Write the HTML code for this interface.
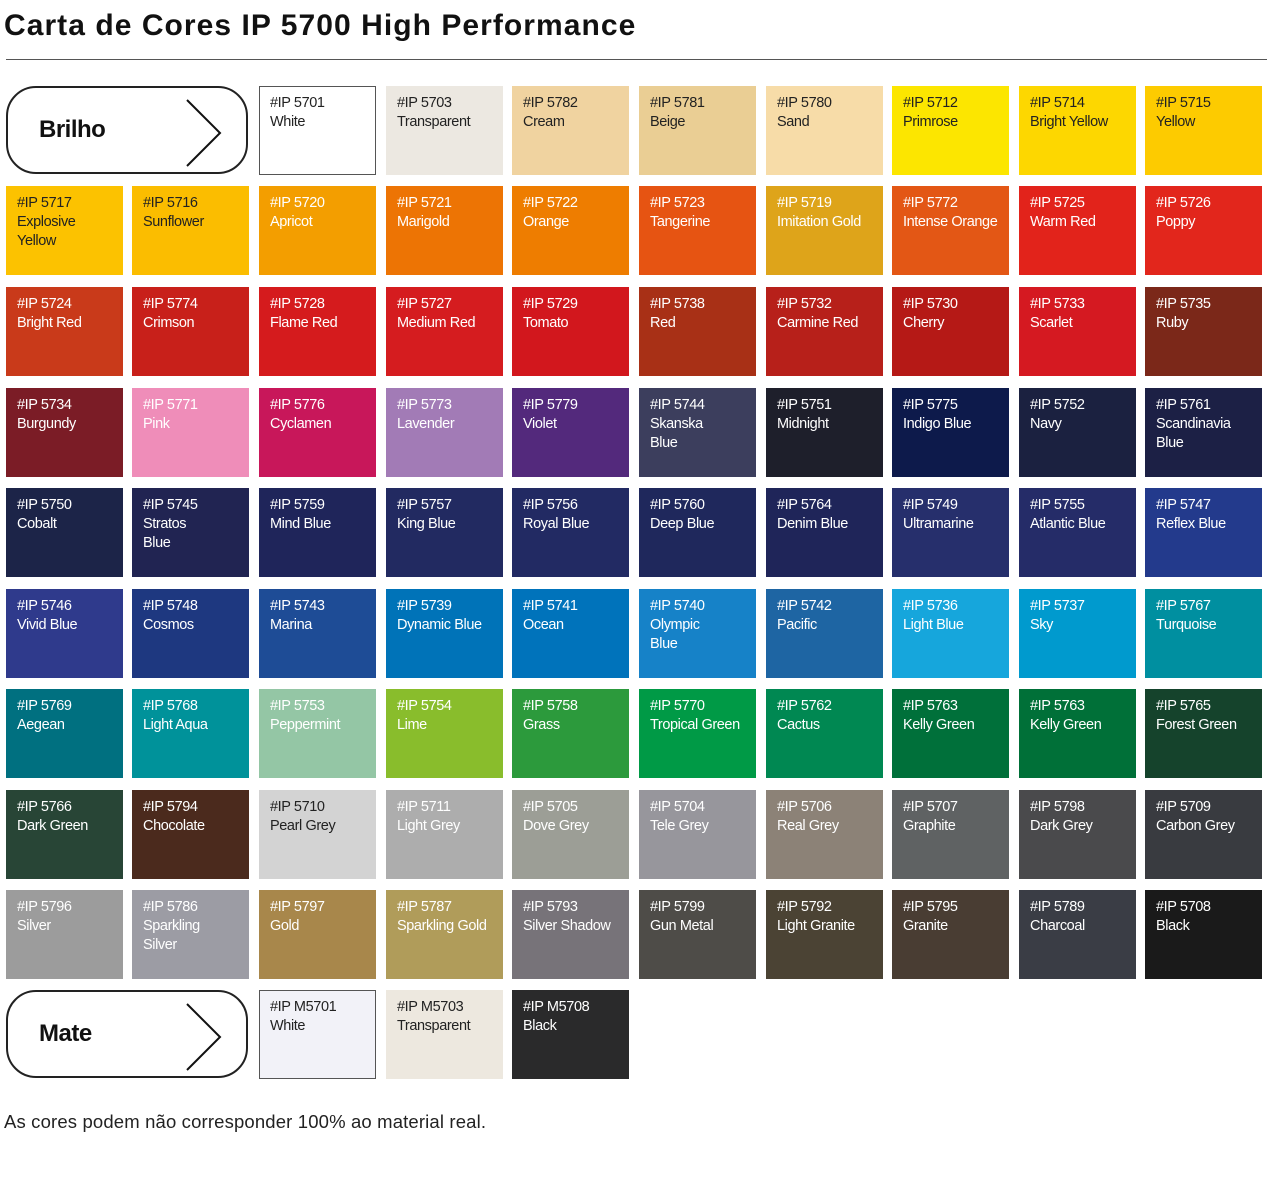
<!DOCTYPE html><html><head><meta charset="utf-8"><style>
body{margin:0;width:1270px;height:1196px;background:#fff;position:relative;font-family:"Liberation Sans",Arial,sans-serif;overflow:hidden}
.t{position:absolute;left:4px;top:9px;font-size:30px;font-weight:bold;color:#111;letter-spacing:1.05px}
.hr{position:absolute;left:6px;top:59px;width:1261px;height:1px;background:#555}
.s{position:absolute;width:117px;height:89px;box-sizing:border-box;padding:8px 0 0 11px;font-size:14.5px;line-height:19px;color:#fff;letter-spacing:-0.4px}
.d{color:#222}
.b{border:1px solid #555;padding:7px 0 0 10px}
.lab{position:absolute;left:6px;width:242px;height:88px;box-sizing:border-box;border:2px solid #222;border-radius:30px}
.lab span{position:absolute;left:31px;top:28px;font-size:24px;font-weight:bold;color:#111;letter-spacing:-0.5px}
.lab svg{position:absolute;left:176px;top:10px}
.f{position:absolute;left:4px;top:1111px;font-size:18.5px;color:#222;letter-spacing:0.15px}
</style></head><body>
<div class="t">Carta de Cores IP 5700 High Performance</div>
<div class="hr"></div>
<div class="lab" style="top:86px"><span>Brilho</span><svg width="40" height="70"><polyline points="3,2 36,35 3,68" fill="none" stroke="#111" stroke-width="2"/></svg></div>
<div class="lab" style="top:990px"><span>Mate</span><svg width="40" height="70"><polyline points="3,2 36,35 3,68" fill="none" stroke="#111" stroke-width="2"/></svg></div>
<div id="g"></div>
<div class="f">As cores podem não corresponder 100% ao material real.</div>
<script>
var X=[6,132,259,386,512,639,766,892,1019,1145],Y=[86,186,287,388,488,589,689,790,890,990];
var R=[
[null,null,["5701","White","#ffffff","db"],["5703","Transparent","#ece8e1","d"],["5782","Cream","#f0d3a0","d"],["5781","Beige","#eace94","d"],["5780","Sand","#f7dca8","d"],["5712","Primrose","#fce600","d"],["5714","Bright Yellow","#fdd700","d"],["5715","Yellow","#fdcb00","d"]],
[["5717","Explosive<br>Yellow","#fcc200","d"],["5716","Sunflower","#fbbd00","d"],["5720","Apricot","#f39e00"],["5721","Marigold","#ed7404"],["5722","Orange","#ee7d00"],["5723","Tangerine","#e65412"],["5719","Imitation Gold","#dea41a"],["5772","Intense Orange","#e35715"],["5725","Warm Red","#e2231b"],["5726","Poppy","#e2261c"]],
[["5724","Bright Red","#c93a1a"],["5774","Crimson","#c8201a"],["5728","Flame Red","#d51b1d"],["5727","Medium Red","#d51c1f"],["5729","Tomato","#d2171d"],["5738","Red","#a83016"],["5732","Carmine Red","#b7201a"],["5730","Cherry","#b51916"],["5733","Scarlet","#d51921"],["5735","Ruby","#7b2819"]],
[["5734","Burgundy","#7b1c26"],["5771","Pink","#ef8db9"],["5776","Cyclamen","#c8175a"],["5773","Lavender","#a27bb6"],["5779","Violet","#53297c"],["5744","Skanska<br>Blue","#3c3e5d"],["5751","Midnight","#1e1f2b"],["5775","Indigo Blue","#0d1a4b"],["5752","Navy","#1b2140"],["5761","Scandinavia<br>Blue","#1c2045"]],
[["5750","Cobalt","#1c2448"],["5745","Stratos<br>Blue","#212452"],["5759","Mind Blue","#1f255a"],["5757","King Blue","#222a61"],["5756","Royal Blue","#222a63"],["5760","Deep Blue","#1f285c"],["5764","Denim Blue","#1f2559"],["5749","Ultramarine","#262f6c"],["5755","Atlantic Blue","#252c68"],["5747","Reflex Blue","#233a8c"]],
[["5746","Vivid Blue","#2f3a8c"],["5748","Cosmos","#1e3880"],["5743","Marina","#1e4c96"],["5739","Dynamic Blue","#0073b8"],["5741","Ocean","#0073bb"],["5740","Olympic<br>Blue","#1682c8"],["5742","Pacific","#1e65a3"],["5736","Light Blue","#16a6dc"],["5737","Sky","#009ace"],["5767","Turquoise","#008fa0"]],
[["5769","Aegean","#007080"],["5768","Light Aqua","#00929a"],["5753","Peppermint","#94c6a5"],["5754","Lime","#89bd2c"],["5758","Grass","#2c9a3c"],["5770","Tropical Green","#009a46"],["5762","Cactus","#008852"],["5763","Kelly Green","#00703a"],["5763","Kelly Green","#007038"],["5765","Forest Green","#15432c"]],
[["5766","Dark Green","#284536"],["5794","Chocolate","#4b2a1d"],["5710","Pearl Grey","#d3d3d3","d"],["5711","Light Grey","#adadad"],["5705","Dove Grey","#9c9e96"],["5704","Tele Grey","#97969c"],["5706","Real Grey","#8c8277"],["5707","Graphite","#5f6263"],["5798","Dark Grey","#4a4a4c"],["5709","Carbon Grey","#393b40"]],
[["5796","Silver","#9c9c9c"],["5786","Sparkling<br>Silver","#9c9ca4"],["5797","Gold","#a8874b"],["5787","Sparkling Gold","#b09c5a"],["5793","Silver Shadow","#777379"],["5799","Gun Metal","#4e4c48"],["5792","Light Granite","#4b4334"],["5795","Granite","#493d33"],["5789","Charcoal","#3a3d45"],["5708","Black","#1a1a1a"]],
[null,null,["M5701","White","#f2f2f8","db"],["M5703","Transparent","#ede8df","d"],["M5708","Black","#2a2a2b"]]
];
var h="";
R.forEach(function(r,i){r.forEach(function(c,j){if(!c)return;var cl="s";if(c[3]){if(c[3].indexOf("d")>=0)cl+=" d";if(c[3].indexOf("b")>=0)cl+=" b";}
h+='<div class="'+cl+'" style="left:'+X[j]+'px;top:'+Y[i]+'px;background:'+c[2]+'">#IP '+c[0]+'<br>'+c[1]+'</div>';});});
document.getElementById("g").innerHTML=h;
</script>
</body></html>
